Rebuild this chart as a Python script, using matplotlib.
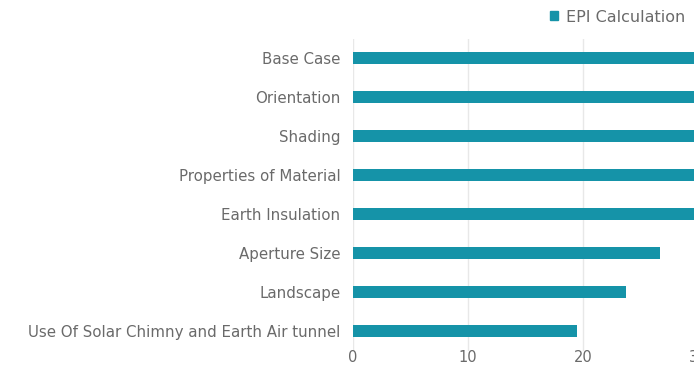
import matplotlib
matplotlib.use('Agg')
import matplotlib.pyplot as plt
from matplotlib.patches import Patch

CATEGORIES = ['Base Case', 'Orientation', 'Shading', 'Properties of Material',
              'Earth Insulation', 'Aperture Size', 'Landscape',
              'Use Of Solar Chimny and Earth Air tunnel']
EPI_VALUES = [32.0, 31.5, 31.0, 30.5, 30.0, 26.7, 23.7, 19.5]
SERIES_NAME = 'EPI Calculation'
X_TICKS = [0, 10, 20, 30, 40]

BAR_COLOR = '#1593a8'
TEXT_COLOR = '#6a6a6a'

plt.rcParams['font.family'] = ['DejaVu Sans']

fig = plt.figure(figsize=(6.94, 3.67), dpi=100)
# axes run past the right edge, like the cropped original
ax = fig.add_axes([353 / 694, 16.5 / 367, 460 / 694, 312 / 367])

y_pos = list(range(len(CATEGORIES)))
ax.barh(y_pos, EPI_VALUES, height=0.31, color=BAR_COLOR, zorder=3)

ax.set_ylim(len(CATEGORIES) - 0.5, -0.5)
ax.set_yticks(y_pos)
ax.set_yticklabels(CATEGORIES, fontsize=10.8, color=TEXT_COLOR)
ax.set_xlim(0, 40)
ax.set_xticks(X_TICKS)
ax.set_xticklabels([str(t) for t in X_TICKS], fontsize=10.5, color=TEXT_COLOR)
ax.tick_params(axis='y', length=0, pad=9)
ax.tick_params(axis='x', length=0, pad=0)
ax.grid(axis='x', color='#e8e8e8', linewidth=1, zorder=0)
for side in ['top', 'right', 'bottom', 'left']:
    ax.spines[side].set_visible(False)

fig.legend(handles=[Patch(color=BAR_COLOR, label=SERIES_NAME)],
           loc='center left', bbox_to_anchor=(536 / 694, 1 - 17 / 367),
           frameon=False, handlelength=0.5, handleheight=0.5, handletextpad=0.45,
           fontsize=11.5, labelcolor=TEXT_COLOR)

fig.savefig('out.png', dpi=100)
